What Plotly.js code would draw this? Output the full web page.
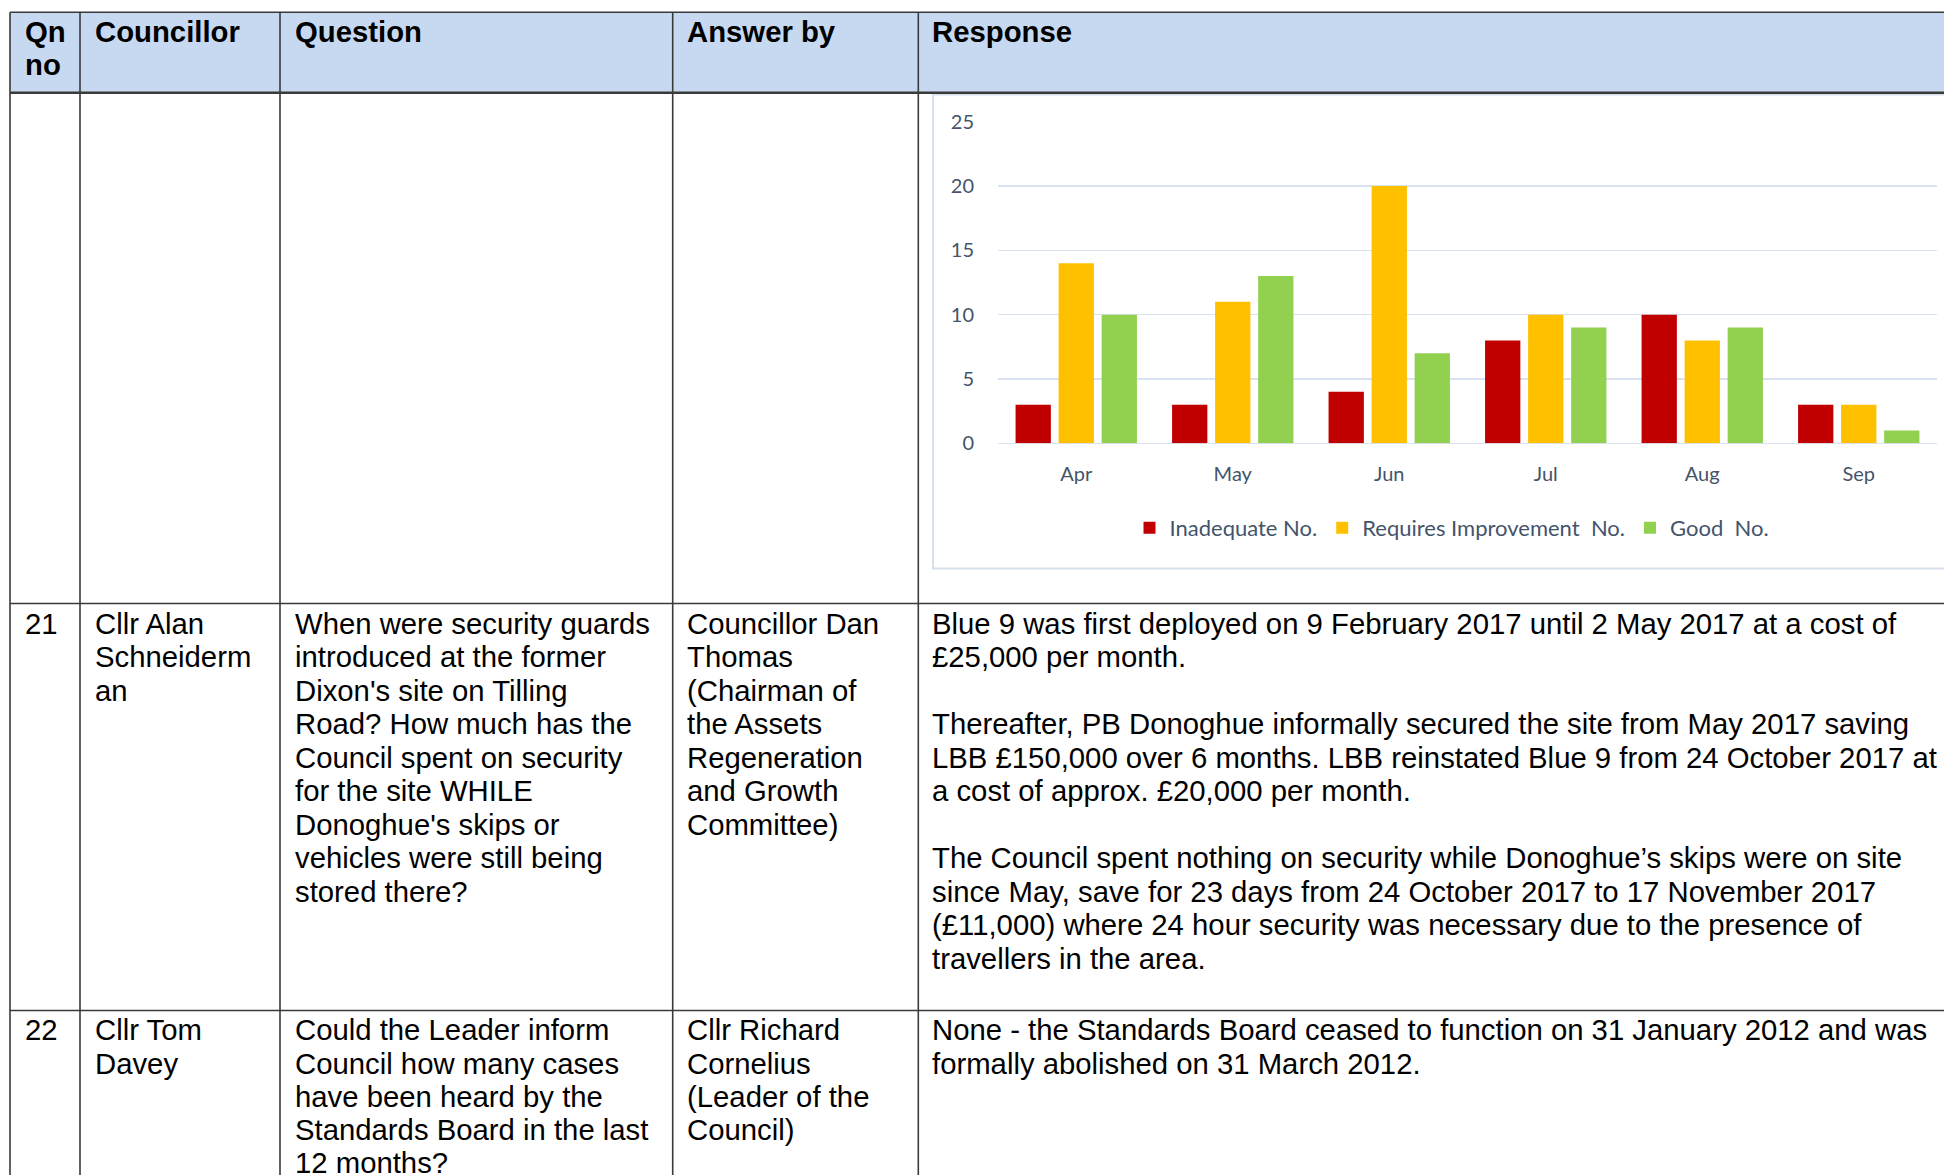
<!DOCTYPE html>
<html>
<head>
<meta charset="utf-8">
<script src="https://cdn.plot.ly/plotly-3.0.1.min.js"></script>
<style>
  html, body { margin: 0; padding: 0; background: #fff; }
  #chart { width: 1944px; height: 1175px; }
</style>
</head>
<body>
<div id="chart"></div>
<script>
// ---- chart data ----
const months = ["Apr", "May", "Jun", "Jul", "Aug", "Sep"];
const inadequate = [3, 3, 4, 8, 10, 3];
const requiresImprovement = [14, 11, 20, 10, 8, 3];
const good = [10, 13, 7, 9, 9, 1];
const seriesNames = ["Inadequate No.", "Requires Improvement\u00a0 No.", "Good\u00a0 No."];
const yTicks = [0, 5, 10, 15, 20, 25];

// ---- table text ----
const headers = [["Qn", "no"], ["Councillor"], ["Question"], ["Answer by"], ["Response"]];
const row21 = [
  ["21"],
  ["Cllr Alan", "Schneiderm", "an"],
  ["When were security guards", "introduced at the former", "Dixon's site on Tilling",
   "Road? How much has the", "Council spent on security", "for the site WHILE",
   "Donoghue's skips or", "vehicles were still being", "stored there?"],
  ["Councillor Dan", "Thomas", "(Chairman of", "the Assets", "Regeneration", "and Growth", "Committee)"],
  ["Blue 9 was first deployed on 9 February 2017 until 2 May 2017 at a cost of",
   "£25,000 per month.",
   "",
   "Thereafter, PB Donoghue informally secured the site from May 2017 saving",
   "LBB £150,000 over 6 months. LBB reinstated Blue 9 from 24 October 2017 at",
   "a cost of approx. £20,000 per month.",
   "",
   "The Council spent nothing on security while Donoghue\u2019s skips were on site",
   "since May, save for 23 days from 24 October 2017 to 17 November 2017",
   "(£11,000) where 24 hour security was necessary due to the presence of",
   "travellers in the area."]
];
const row22 = [
  ["22"],
  ["Cllr Tom", "Davey"],
  ["Could the Leader inform", "Council how many cases", "have been heard by the",
   "Standards Board in the last", "12 months?"],
  ["Cllr Richard", "Cornelius", "(Leader of the", "Council)"],
  ["None - the Standards Board ceased to function on 31 January 2012 and was",
   "formally abolished on 31 March 2012."]
];

// ---- layout geometry (pixels) ----
const W = 1944, H = 1175;
const px = x => x / W;
const py = y => 1 - y / H;
const colLines = [10, 80, 280, 672.7, 918.3];
const textX = [24, 94, 294, 686, 931];
const tableTop = 12.3, headBottom = 92.7, row21Bottom = 603.5, row22Top = 1010.5;
const FS = 29.3;
const textFont = "Liberation Sans, Arial, Helvetica, sans-serif";
const chartFont = "Lato, Carlito, Calibri, sans-serif";
const chartText = "#44546A";

const annotations = [];
function addCell(lines, col, firstBaseline, lh, bold) {
  lines.forEach((t, k) => {
    if (!t) return;
    const base = firstBaseline + k * lh;
    annotations.push({
      xref: "paper", yref: "paper",
      x: px(textX[col]), y: py(base - 0.3465 * FS),
      xanchor: "left", yanchor: "middle",
      text: bold ? "<b>" + t + "</b>" : t,
      showarrow: false, borderpad: 0,
      font: { family: textFont, size: FS, color: "#000000" }
    });
  });
}
headers.forEach((c, i) => addCell(c, i, 41.5, 33.5, true));
row21.forEach((c, i) => addCell(c, i, 633.3, 33.5, false));
row22.forEach((c, i) => addCell(c, i, 1040, 33.2, false));

const shapes = [];
// header fill
shapes.push({ type: "rect", xref: "paper", yref: "paper", layer: "below",
  x0: px(colLines[0]), x1: px(W + 10), y0: py(tableTop), y1: py(headBottom),
  fillcolor: "#C6D9F1", line: { width: 0 } });
// chart frame
shapes.push({ type: "rect", xref: "paper", yref: "paper", layer: "below",
  x0: px(933), x1: px(W + 20), y0: py(94.5), y1: py(568.5),
  fillcolor: "rgba(0,0,0,0)", line: { color: "#D6E0EE", width: 2 } });
// horizontal rules
[[tableTop, 1.6], [headBottom, 2.4], [row21Bottom, 1.6], [row22Top, 1.6]].forEach(([y, w]) => {
  shapes.push({ type: "line", xref: "paper", yref: "paper", layer: "above",
    x0: px(colLines[0]), x1: px(W + 10), y0: py(y), y1: py(y),
    line: { color: "#3a3a3a", width: w } });
});
// vertical rules
colLines.forEach(x => {
  shapes.push({ type: "line", xref: "paper", yref: "paper", layer: "above",
    x0: px(x), x1: px(x), y0: py(tableTop), y1: py(H + 10),
    line: { color: "#3a3a3a", width: 1.6 } });
});

const colors = ["#C00000", "#FFC000", "#92D050"];
const values = [inadequate, requiresImprovement, good];
const traces = values.map((v, i) => ({
  type: "bar", x: months, y: v, name: seriesNames[i],
  marker: { color: colors[i], line: { width: 0 } },
  hoverinfo: "x+y+name"
}));

const layout = {
  width: W, height: H,
  margin: { l: 0, r: 0, t: 0, b: 0, pad: 0 },
  paper_bgcolor: "#ffffff", plot_bgcolor: "rgba(0,0,0,0)",
  barmode: "group", bargap: 0.175, bargroupgap: 0.18,
  showlegend: true,
  legend: {
    orientation: "h", x: px(1452), xanchor: "center", y: py(528), yanchor: "middle",
    font: { family: chartFont, size: 22, color: chartText },
    bgcolor: "rgba(0,0,0,0)", traceorder: "normal"
  },
  xaxis: {
    domain: [px(998), px(1937)], type: "category",
    showgrid: false, showline: false, zeroline: false,
    ticks: "outside", ticklen: 13, tickcolor: "rgba(0,0,0,0)",
    tickfont: { family: chartFont, size: 20, color: chartText }, fixedrange: true
  },
  yaxis: {
    domain: [py(443.3), py(121.7)], range: [0, 25],
    tickvals: yTicks, ticktext: yTicks.map(String),
    showgrid: true, gridcolor: "#D9E2F1", gridwidth: 1.5,
    zeroline: true, zerolinecolor: "#D9E2F1", zerolinewidth: 1.5,
    showline: false,
    ticks: "outside", ticklen: 19, tickcolor: "rgba(0,0,0,0)",
    tickfont: { family: chartFont, size: 20, color: chartText }, fixedrange: true
  },
  shapes: shapes,
  annotations: annotations
};

Plotly.newPlot("chart", traces, layout, { displayModeBar: false, staticPlot: true });
</script>
</body>
</html>
